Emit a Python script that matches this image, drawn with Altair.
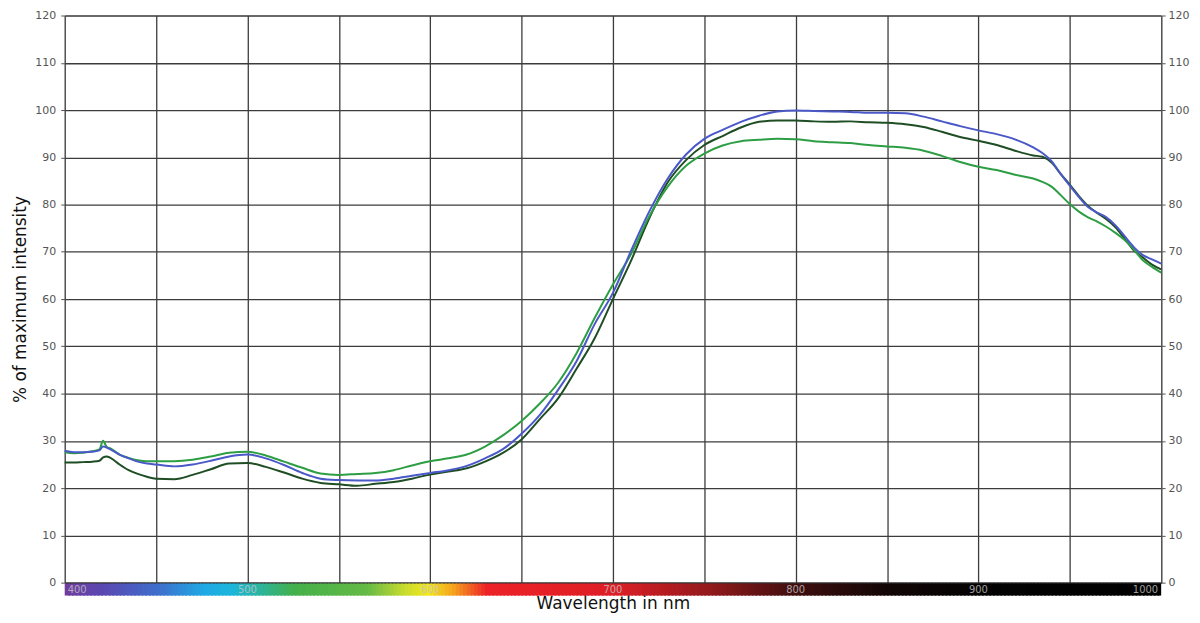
import altair as alt
import pandas as pd

# ---------------- data ----------------
wavelength = [400, 405, 410, 415, 419, 421, 423, 425, 430, 435, 440, 445, 450, 460, 470, 480, 490,
              500, 510, 520, 530, 540, 550, 560, 570, 580, 590, 600, 610, 620, 630, 640, 650,
              660, 670, 680, 690, 700, 710, 720, 730, 740, 750, 760, 770, 780, 790, 800, 810,
              820, 830, 840, 850, 860, 870, 880, 890, 900, 910, 920, 930, 935, 940, 945, 950,
              955, 960, 965, 970, 975, 980, 985, 990, 995, 1000]

blue = [27.9, 27.6, 27.6, 27.7, 28.0, 28.8, 28.6, 28.2, 27.1, 26.3, 25.6, 25.2, 25.0, 24.6, 25.0, 25.8, 26.7,
        27.1, 26.3, 24.9, 23.2, 22.0, 21.7, 21.6, 21.6, 22.0, 22.6, 23.2, 23.8, 24.7, 26.3, 28.3, 31.5,
        35.5, 40.8, 46.8, 54.7, 61.3, 70.3, 78.6, 85.5, 90.6, 93.9, 95.8, 97.5, 98.8, 99.7, 99.9, 99.8,
        99.7, 99.6, 99.4, 99.4, 99.3, 98.6, 97.6, 96.6, 95.7, 94.9, 93.8, 92.1, 90.9, 89.2, 86.5, 84.0,
        81.6, 79.5, 78.3, 77.3, 75.6, 73.3, 71.0, 69.3, 68.4, 67.5]

dark_green = [25.4, 25.4, 25.5, 25.6, 25.8, 26.5, 26.7, 26.4, 25.0, 23.8, 23.0, 22.4, 22.0, 21.9, 22.8, 24.0, 25.2,
              25.3, 24.5, 23.3, 22.0, 21.1, 20.8, 20.5, 20.9, 21.3, 22.0, 22.9, 23.5, 24.2, 25.6, 27.5, 30.3,
              34.6, 39.0, 45.2, 51.7, 60.0, 68.2, 77.2, 84.7, 89.4, 92.6, 94.5, 96.3, 97.5, 97.8, 97.8, 97.6,
              97.5, 97.6, 97.4, 97.3, 97.0, 96.4, 95.4, 94.3, 93.5, 92.6, 91.4, 90.4, 90.1, 88.9, 86.5, 84.2,
              81.8, 79.7, 78.2, 76.9, 75.2, 72.8, 70.3, 68.8, 67.3, 66.3]

green = [27.6, 27.4, 27.5, 27.8, 28.2, 30.0, 28.7, 28.4, 27.1, 26.4, 25.9, 25.7, 25.7, 25.7, 26.0, 26.7, 27.5,
         27.7, 26.9, 25.6, 24.3, 23.1, 22.8, 23.0, 23.2, 23.8, 24.8, 25.7, 26.3, 27.1, 28.8, 31.2, 34.2,
         37.9, 42.3, 48.5, 56.0, 63.1, 69.6, 77.6, 83.8, 88.2, 90.8, 92.5, 93.4, 93.7, 93.9, 93.8, 93.4,
         93.2, 93.0, 92.6, 92.3, 92.0, 91.4, 90.3, 89.0, 88.0, 87.3, 86.3, 85.5, 84.8, 83.8, 82.0, 80.1,
         78.5, 77.3, 76.4, 75.3, 74.0, 72.5, 70.5, 68.2, 66.8, 65.6]

series_names = ["Dark green", "Green", "Blue"]
series_colors = ["#1f4d24", "#2e9e45", "#4a58c8"]

y_ticks = [0, 10, 20, 30, 40, 50, 60, 70, 80, 90, 100, 110, 120]
x_grid = [400, 450, 500, 550, 600, 650, 700, 750, 800, 850, 900, 950, 1000]
bar_labels = [400, 500, 600, 700, 800, 900, 1000]

spectrum_stops = [400, 420, 450, 475, 490, 505, 525, 565, 585, 598, 612, 630, 700, 750, 800, 850, 900, 1000]
spectrum_colors = ["#6f3d9e", "#5a48b2", "#3f6fcc", "#1fa9e4", "#1cb6dc", "#2bb5a0", "#44b04a", "#66ba45",
                   "#c9dc2e", "#f2e61d", "#f5a01f", "#ec2227", "#dd1f26", "#951a1d", "#3e0e0e", "#120606",
                   "#030202", "#000000"]

# ---------------- layout ----------------
W, H = 1102, 570
FONT = "DejaVu Sans"

rows = []
for name, vals in zip(series_names, [dark_green, green, blue]):
    for w, v in zip(wavelength, vals):
        rows.append({"nm": w, "value": v, "series": name})
lines_df = pd.DataFrame(rows)

bar_df = pd.DataFrame({"nm": list(range(400, 1000, 2))})
bar_df["nm2"] = (bar_df["nm"] + 3).clip(upper=1000)

x_scale = alt.Scale(domain=[400, 1000], nice=False, zero=False)
y_scale = alt.Scale(domain=[0, 120], nice=False)

x_axis = alt.Axis(values=x_grid, labels=False, ticks=False, domain=True, domainColor="#333333",
                  domainWidth=1.5, grid=True, gridColor="#3c3c3c", gridWidth=1.3,
                  title="Wavelength in nm", titleFont=FONT, titleFontSize=17, titleFontWeight="normal",
                  titleColor="#111111", titlePadding=13)

lines = alt.Chart(lines_df).mark_line(strokeWidth=2, interpolate="monotone").encode(
    x=alt.X("nm:Q", scale=x_scale, axis=x_axis),
    y=alt.Y("value:Q", scale=y_scale,
            axis=alt.Axis(values=y_ticks, orient="left", grid=True, gridColor="#3c3c3c", gridWidth=1.3,
                          domain=False, tickColor="#555555", tickSize=4, labelPadding=5,
                          labelFont=FONT, labelFontSize=11, labelColor="#555555",
                          title="% of maximum intensity", titleFont=FONT, titleFontSize=17,
                          titleFontWeight="normal", titleColor="#111111", titlePadding=5)),
    color=alt.Color("series:N", scale=alt.Scale(domain=series_names, range=series_colors), legend=None),
    order=alt.Order("series:N"),
)

right_df = pd.DataFrame({"nm": [1000, 1000], "value": [0, 120]})
right_axis = alt.Chart(right_df).mark_point(opacity=0).encode(
    x=alt.X("nm:Q", scale=x_scale, axis=x_axis),
    y=alt.Y("value:Q", scale=y_scale,
            axis=alt.Axis(values=y_ticks, orient="right", grid=False, domain=True, domainColor="#555555",
                          domainWidth=1.3, tickColor="#555555", tickSize=4, labelPadding=3,
                          labelFont=FONT, labelFontSize=11, labelColor="#555555", title=None)),
)

spectrum = alt.Chart(bar_df).mark_rect().encode(
    x=alt.X("nm:Q", scale=x_scale, axis=x_axis),
    x2="nm2:Q",
    y=alt.value(H + 1),
    y2=alt.value(H + 13),
    color=alt.Color("nm:Q", scale=alt.Scale(domain=spectrum_stops, range=spectrum_colors,
                                             interpolate="rgb"), legend=None),
)

lab_df = pd.DataFrame({"nm": bar_labels, "label": [str(v) for v in bar_labels]})
text_common = dict(fontSize=10, font=FONT, color="#c4c4c4", opacity=0.8, baseline="middle")
lab_left = alt.Chart(lab_df.iloc[:1]).mark_text(align="left", dx=3, **text_common).encode(
    x=alt.X("nm:Q", scale=x_scale, axis=x_axis), y=alt.value(H + 7), text="label:N")
lab_mid = alt.Chart(lab_df.iloc[1:-1]).mark_text(align="center", **text_common).encode(
    x=alt.X("nm:Q", scale=x_scale, axis=x_axis), y=alt.value(H + 7), text="label:N")
lab_right = alt.Chart(lab_df.iloc[-1:]).mark_text(align="right", dx=-3, **text_common).encode(
    x=alt.X("nm:Q", scale=x_scale, axis=x_axis), y=alt.value(H + 7), text="label:N")

chart = alt.layer(lines, right_axis, spectrum, lab_left, lab_mid, lab_right).resolve_scale(
    color="independent"
).resolve_axis(y="independent").properties(
    width=W, height=H,
    autosize=alt.AutoSizeParams(type="none"),
    padding={"left": 57, "right": 31, "top": 6, "bottom": 35},
).configure_view(stroke=None).configure(background="white")

chart.save("out.html", embed_options={"renderer": "svg", "actions": False})
